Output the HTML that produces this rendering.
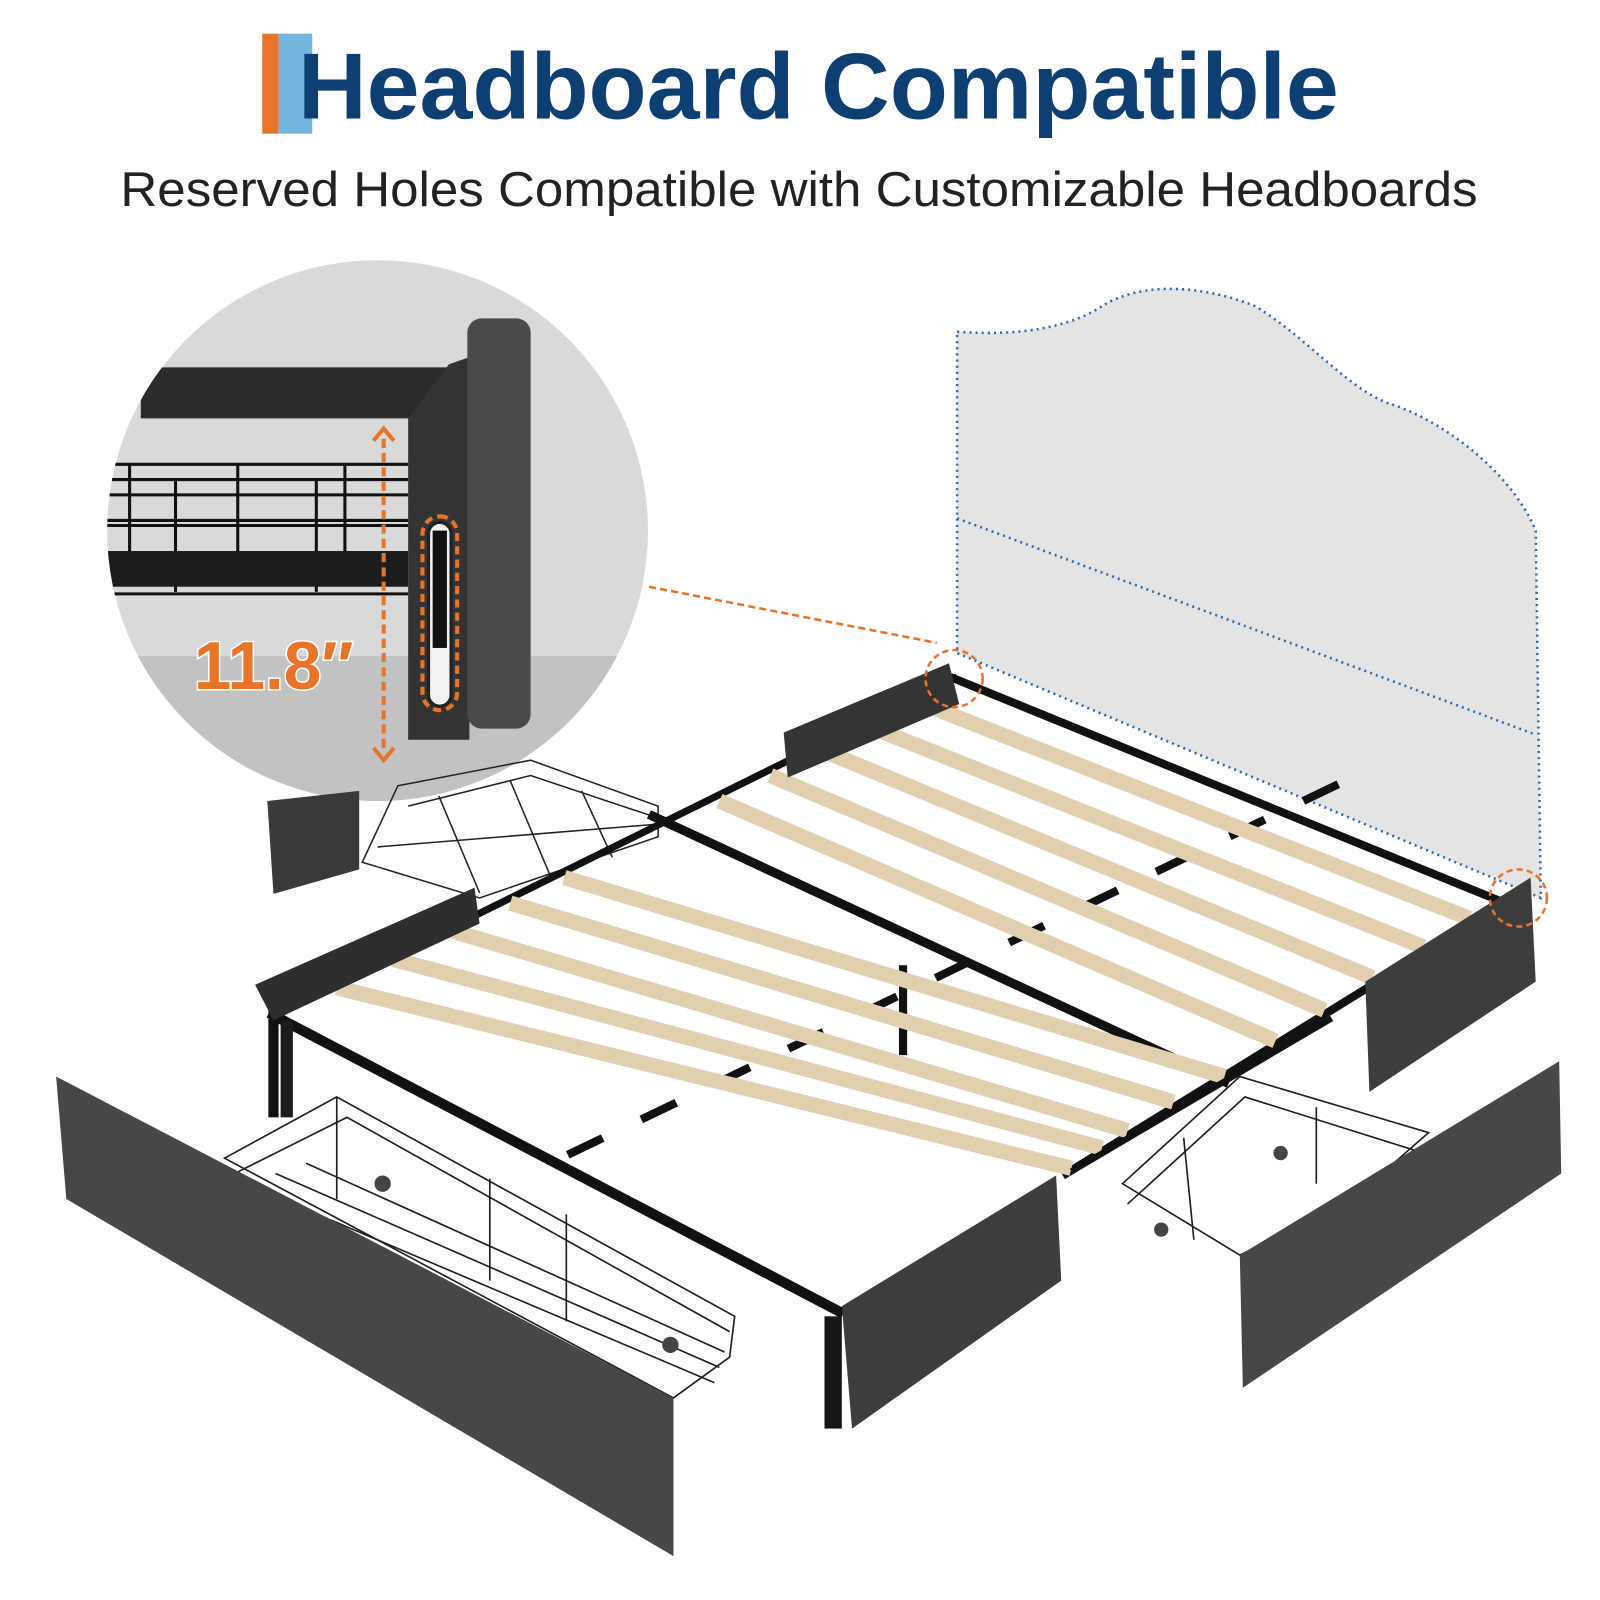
<!DOCTYPE html>
<html><head><meta charset="utf-8"><style>html,body{margin:0;padding:0;background:#fff}svg{display:block}</style></head>
<body>
<svg width="1600" height="1600" viewBox="0 0 1568 1568" xmlns="http://www.w3.org/2000/svg">
<rect width="1568" height="1568" fill="#fff"/>
<rect x="257" y="33" width="16" height="98" fill="#e8742a"/>
<rect x="273" y="33" width="33" height="98" fill="#74b6de"/>
<text x="292" y="116" font-family="Liberation Sans, sans-serif" font-weight="bold" font-size="92" fill="#0d3f73" textLength="1020" lengthAdjust="spacingAndGlyphs">Headboard Compatible</text>
<text x="118" y="202" font-family="Liberation Sans, sans-serif" font-size="48" fill="#222" textLength="1330" lengthAdjust="spacingAndGlyphs">Reserved Holes Compatible with Customizable Headboards</text>

<path d="M938,325 C1000,330 1050,320 1080,300 C1120,275 1180,280 1230,300 C1280,330 1320,380 1360,395 C1410,410 1480,460 1505,520 L1510,880 L938,640 Z" fill="#e4e4e4" stroke="#2a6ab0" stroke-width="2.5" stroke-dasharray="2 4"/>
<line x1="938" y1="508" x2="1505" y2="720" stroke="#2a6ab0" stroke-width="2.5" stroke-dasharray="2 4"/>

<defs><clipPath id="c"><circle cx="370" cy="520" r="265"/></clipPath></defs>
<g clip-path="url(#c)">
<rect x="100" y="250" width="540" height="540" fill="#d9d9d9"/>
<rect x="100" y="643" width="540" height="150" fill="#c2c2c2"/>
<path d="M138,360 L440,360 L405,410 L138,410 Z" fill="#2b2b2b"/>
<path d="M440,357 L460,350 L460,725 L400,725 L400,410 Z" fill="#333"/>
<rect x="458" y="312" width="62" height="402" rx="14" fill="#4a4a4a"/>
<g stroke="#111" stroke-width="3" fill="none">
<line x1="105" y1="455" x2="400" y2="455"/><line x1="105" y1="470" x2="400" y2="470"/>
<line x1="105" y1="485" x2="400" y2="485"/><line x1="105" y1="510" x2="400" y2="510"/>
<line x1="105" y1="515" x2="400" y2="515"/>
<line x1="127" y1="455" x2="127" y2="545"/><line x1="172" y1="470" x2="172" y2="580"/>
<line x1="233" y1="455" x2="233" y2="545"/><line x1="310" y1="470" x2="310" y2="580"/><line x1="338" y1="455" x2="338" y2="545"/>
</g>
<rect x="105" y="540" width="295" height="35" fill="#1c1c1c"/>
<line x1="105" y1="582" x2="400" y2="582" stroke="#111" stroke-width="3"/>
<rect x="420" y="512" width="22" height="180" rx="11" fill="#f2f2f2" stroke="#222" stroke-width="3"/>
<rect x="424" y="520" width="14" height="115" fill="#111"/>
<rect x="414" y="506" width="34" height="190" rx="17" fill="none" stroke="#e8742a" stroke-width="4" stroke-dasharray="8 5"/>
<line x1="376" y1="430" x2="376" y2="735" stroke="#e8742a" stroke-width="4" stroke-dasharray="9 5"/>
<path d="M366,432 L376,420 L386,432" fill="none" stroke="#e8742a" stroke-width="4"/>
<path d="M366,733 L376,745 L386,733" fill="none" stroke="#e8742a" stroke-width="4"/>
<text x="190" y="675" font-family="Liberation Sans, sans-serif" font-weight="bold" font-size="66" fill="#e8742a" stroke="#fff" stroke-width="3" paint-order="stroke">11.8″</text>
</g>
<line x1="636" y1="575" x2="918" y2="630" stroke="#e8742a" stroke-width="2.5" stroke-dasharray="7 4"/>

<path d="M262,785 L352,775 L352,852 L268,876 Z" fill="#3a3a3a"/>
<g stroke="#222" stroke-width="1.5" fill="none">
<path d="M390,770 L520,745 L645,790 L645,820 L470,880 L355,845 Z"/>
<path d="M400,790 L520,760 L640,800"/><path d="M370,830 L640,808"/>
<line x1="430" y1="780" x2="470" y2="875"/><line x1="500" y1="765" x2="540" y2="860"/><line x1="570" y1="775" x2="600" y2="840"/>
</g>

<g stroke="#111" fill="none" stroke-linecap="square">
<line x1="935" y1="665" x2="1475" y2="885" stroke-width="8"/>
<line x1="268" y1="995" x2="822" y2="1285" stroke-width="10"/>
<line x1="640" y1="800" x2="1200" y2="1060" stroke-width="9"/>
<line x1="935" y1="665" x2="268" y2="995" stroke-width="7"/>
<line x1="1475" y1="885" x2="1045" y2="1150" stroke-width="8"/>
<line x1="560" y1="1130" x2="1350" y2="750" stroke-width="8" stroke-dasharray="30 50"/>
<line x1="885" y1="950" x2="885" y2="1030" stroke-width="8"/>
<line x1="268" y1="995" x2="268" y2="1090" stroke-width="10"/>
</g>

<g stroke="#e2cfae" stroke-width="15" stroke-linecap="butt">
<line x1="900" y1="688" x2="1440" y2="900"/>
<line x1="852" y1="712" x2="1395" y2="928"/>
<line x1="805" y1="735" x2="1345" y2="958"/>
<line x1="755" y1="760" x2="1298" y2="990"/>
<line x1="705" y1="785" x2="1250" y2="1020"/>
<line x1="553" y1="860" x2="1200" y2="1055"/>
<line x1="500" y1="885" x2="1150" y2="1080"/>
<line x1="442" y1="912" x2="1105" y2="1108"/>
<line x1="385" y1="940" x2="1080" y2="1125"/>
<line x1="330" y1="968" x2="1050" y2="1145"/>
</g>
<line x1="1305" y1="998" x2="1050" y2="1148" stroke="#111" stroke-width="6"/>

<path d="M768,718 L930,650 L940,690 L772,762 Z" fill="#343434"/>
<path d="M250,965 L465,870 L470,905 L268,1000 Z" fill="#2e2e2e"/>
<rect x="275" y="1000" width="12" height="95" fill="#1b1b1b"/>
<path d="M1338,962 L1500,860 L1505,962 L1342,1070 Z" fill="#3d3d3d"/>
<path d="M825,1280 L1035,1152 L1040,1255 L835,1400 Z" fill="#3d3d3d"/>
<rect x="808" y="1290" width="17" height="110" fill="#161616"/>

<g stroke="#1e1e1e" stroke-width="1.6" fill="none">
<path d="M220,1135 L330,1075 L720,1290 L715,1330 L660,1370 Z"/>
<path d="M230,1150 L340,1095 L715,1305"/>
<line x1="330" y1="1075" x2="330" y2="1175"/>
<line x1="480" y1="1155" x2="480" y2="1255"/><line x1="555" y1="1190" x2="555" y2="1295"/>
<path d="M240,1160 L700,1355 M270,1150 L705,1340 M300,1140 L710,1325"/>
</g>
<circle cx="375" cy="1160" r="8" fill="#444"/><circle cx="657" cy="1318" r="8" fill="#444"/>
<path d="M55,1055 L660,1370 L660,1525 L65,1175 Z" fill="#474747"/>

<g stroke="#1e1e1e" stroke-width="1.6" fill="none">
<path d="M1100,1160 L1215,1055 L1400,1110 L1320,1180 L1215,1230 Z"/>
<path d="M1105,1180 L1220,1075 L1395,1130"/>
<line x1="1160" y1="1115" x2="1170" y2="1215"/><line x1="1290" y1="1085" x2="1290" y2="1160"/>
</g>
<circle cx="1255" cy="1130" r="7" fill="#444"/><circle cx="1138" cy="1205" r="7" fill="#444"/>
<path d="M1215,1230 L1528,1040 L1530,1150 L1218,1360 Z" fill="#474747"/>

<circle cx="935" cy="665" r="28" fill="none" stroke="#e8742a" stroke-width="2.5" stroke-dasharray="6 4"/>
<circle cx="1488" cy="880" r="28" fill="none" stroke="#e8742a" stroke-width="2.5" stroke-dasharray="6 4"/>
</svg>
</body></html>
